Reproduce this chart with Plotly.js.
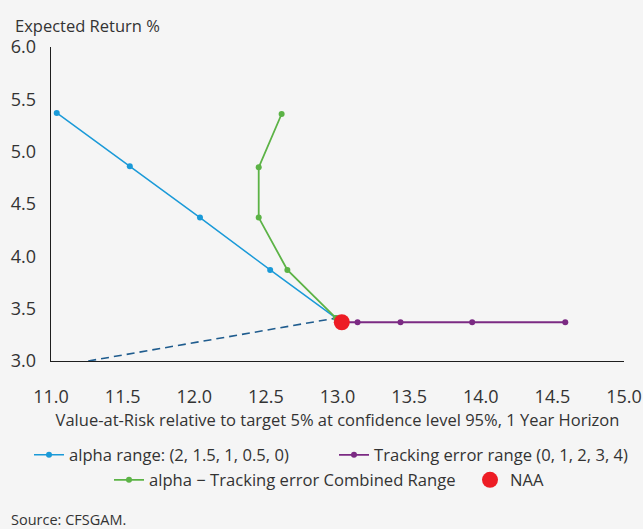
<!DOCTYPE html>
<html>
<head>
<meta charset="utf-8">
<script src="https://cdn.plot.ly/plotly-3.0.1.min.js"></script>
<style>html,body{margin:0;padding:0;background:#f5f5f5;}#chart{width:643px;height:529px;}</style>
</head>
<body>
<div id="chart"></div>
<script>
// Data
const alphaX = [11.04, 11.55, 12.04, 12.53, 12.99];
const alphaY = [5.37, 4.86, 4.37, 3.87, 3.41];
const teX = [13.03, 13.14, 13.44, 13.94, 14.59];
const teY = [3.37, 3.37, 3.37, 3.37, 3.37];
const combX = [12.61, 12.45, 12.45, 12.65, 12.99];
const combY = [5.36, 4.85, 4.37, 3.87, 3.41];
const cmlX = [11.26, 12.99];
const cmlY = [3.0, 3.41];
const naaX = [13.03];
const naaY = [3.37];
const xTicks = [11.0, 11.5, 12.0, 12.5, 13.0, 13.5, 14.0, 14.5, 15.0];
const yTicks = [3.0, 3.5, 4.0, 4.5, 5.0, 5.5, 6.0];

const W = 643, H = 529;
const FONT = '"Open Sans", "Noto Sans", sans-serif';
const TXT = '#333333';

const traces = [
  {x: cmlX, y: cmlY, mode: 'lines', line: {color: '#1f5c8e', width: 1.6, dash: '8px,5px'}, showlegend: false, hoverinfo: 'skip'},
  {x: alphaX, y: alphaY, mode: 'lines+markers', name: 'alpha range: (2, 1.5, 1, 0.5, 0)',
   line: {color: '#1a9ad8', width: 1.5}, marker: {color: '#1a9ad8', size: 6}, legend: 'legend'},
  {x: teX, y: teY, mode: 'lines+markers', name: 'Tracking error range (0, 1, 2, 3, 4)',
   line: {color: '#7b2a83', width: 1.8}, marker: {color: '#7b2a83', size: 6}, legend: 'legend2'},
  {x: combX, y: combY, mode: 'lines+markers', name: 'alpha \u2212 Tracking error Combined Range',
   line: {color: '#5cb346', width: 1.8}, marker: {color: '#5cb346', size: 6}, legend: 'legend3'},
  {x: naaX, y: naaY, mode: 'markers', name: 'NAA',
   marker: {color: '#ed1c24', size: 16}, legend: 'legend4'}
];

function lg(px, py) {
  return {orientation: 'h', xref: 'container', yref: 'container', x: px / W, y: 1 - py / H,
          xanchor: 'left', yanchor: 'middle', bgcolor: 'rgba(0,0,0,0)',
          font: {family: FONT, size: 16.6, color: TXT}, itemsizing: 'trace'};
}

const layout = {
  width: W, height: H,
  paper_bgcolor: '#f5f5f5', plot_bgcolor: '#f5f5f5',
  margin: {l: 51, r: 18.5, t: 47, b: 168},
  font: {family: FONT, color: TXT},
  xaxis: {range: [11, 15], tickvals: xTicks, ticktext: xTicks.map(v => v.toFixed(1)),
          showgrid: false, zeroline: false, showline: true, linecolor: '#1e1e1e', linewidth: 1.3,
          ticks: '', tickfont: {family: FONT, size: 18, color: TXT}, ticklabelstandoff: 19,
          title: {text: 'Value-at-Risk relative to target 5% at confidence level 95%, 1 Year Horizon',
                  font: {family: FONT, size: 16.5, color: TXT}, standoff: 6}},
  yaxis: {range: [3, 6], tickvals: yTicks, ticktext: yTicks.map(v => v.toFixed(1)),
          showgrid: false, zeroline: false, showline: true, linecolor: '#1e1e1e', linewidth: 1.3,
          ticks: '', tickfont: {family: FONT, size: 18, color: TXT}, ticklabelstandoff: 10},
  showlegend: true,
  legend: lg(29, 455),
  legend2: lg(334, 455),
  legend3: lg(109, 480),
  legend4: lg(470, 480),
  annotations: [
    {text: 'Expected Return %', xref: 'paper', yref: 'paper', x: (13 - 51) / 573.5, y: (361 - 25) / 314,
     xanchor: 'left', yanchor: 'middle', showarrow: false, font: {family: FONT, size: 16.5, color: TXT}},
    {text: 'Source: CFSGAM.', xref: 'paper', yref: 'paper', x: (9 - 51) / 573.5, y: (361 - 519) / 314,
     xanchor: 'left', yanchor: 'middle', showarrow: false, font: {family: FONT, size: 14.5, color: TXT}}
  ]
};

Plotly.newPlot('chart', traces, layout, {displayModeBar: false, staticPlot: true});
</script>
</body>
</html>
